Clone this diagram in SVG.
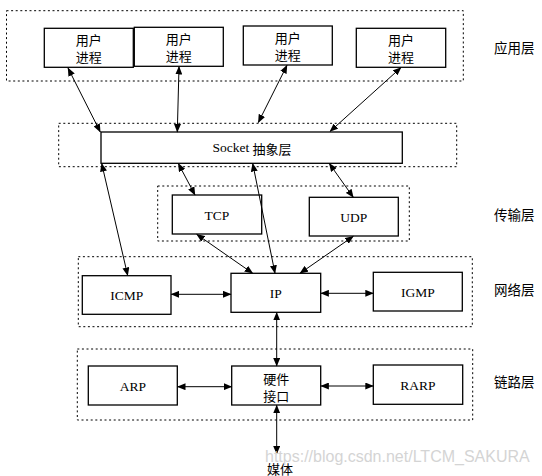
<svg xmlns="http://www.w3.org/2000/svg" width="542" height="476" viewBox="0 0 542 476">
<style>
.bg{fill:#ffffff}
.box{fill:#ffffff;stroke:#000;stroke-width:1.3}
.layer{fill:none;stroke:#000;stroke-width:1;stroke-dasharray:2 2.6}
.lat{font-family:"Liberation Serif","Noto Sans CJK SC",serif;font-size:13.5px;fill:#000;text-anchor:middle;dominant-baseline:central}
.cjk{font-family:"Noto Sans CJK SC","Noto Sans CJK JP",sans-serif;font-size:13px;fill:#000;text-anchor:middle;dominant-baseline:central}
.lbl{font-family:"Noto Sans CJK SC","Noto Sans CJK JP",sans-serif;font-size:13.5px;fill:#000;text-anchor:start;dominant-baseline:central}
.wm{font-family:"Liberation Sans",Arial,sans-serif;font-size:16px;fill:#d4d4d4}
.conn line{stroke:#000;stroke-width:1;marker-start:url(#ah);marker-end:url(#ah)}
</style>
<defs>
<marker id="ah" markerWidth="9" markerHeight="7" refX="8" refY="3.5" orient="auto-start-reverse" markerUnits="userSpaceOnUse">
<path d="M0,0 L8.5,3.5 L0,7 z" fill="#000"/>
</marker>
</defs>
<rect class="bg" x="0" y="0" width="542" height="476"/>

<g id="layers">
<rect class="layer" x="6.5" y="10.7" width="456.8" height="70.3"/>
<rect class="layer" x="58.7" y="123.3" width="398" height="43.4"/>
<rect class="layer" x="157.7" y="186" width="251.6" height="55"/>
<rect class="layer" x="78.3" y="256.7" width="394" height="70"/>
<rect class="layer" x="77.3" y="349" width="395.4" height="71"/>
</g>

<g id="layer-labels">
<text class="lbl" x="494" y="47">应用层</text>
<text class="lbl" x="494" y="213.5">传输层</text>
<text class="lbl" x="494" y="288.5">网络层</text>
<text class="lbl" x="494" y="381">链路层</text>
</g>

<g id="user1">
<rect class="box" x="44.3" y="28.3" width="89" height="39"/>
<text class="cjk" x="88.8" y="39.3">用户<tspan x="88.8" dy="16.7">进程</tspan></text>
</g>
<g id="user2">
<rect class="box" x="134.3" y="27.3" width="89" height="39"/>
<text class="cjk" x="178.8" y="38.3">用户<tspan x="178.8" dy="16.7">进程</tspan></text>
</g>
<g id="user3">
<rect class="box" x="243.3" y="26" width="89" height="39"/>
<text class="cjk" x="287.8" y="37">用户<tspan x="287.8" dy="16.7">进程</tspan></text>
</g>
<g id="user4">
<rect class="box" x="356.3" y="28.3" width="89.4" height="39"/>
<text class="cjk" x="401" y="39.3">用户<tspan x="401" dy="16.7">进程</tspan></text>
</g>

<g id="socket">
<rect class="box" x="101" y="132" width="301.3" height="31.3"/>
<text class="lat" x="252" y="147.7">Socket <tspan font-family="Noto Sans CJK SC, sans-serif" font-size="13px">抽象层</tspan></text>
</g>

<g id="tcp">
<rect class="box" x="172.3" y="195" width="89.4" height="39"/>
<text class="lat" x="217" y="215">TCP</text>
</g>
<g id="udp">
<rect class="box" x="309.3" y="197.3" width="89" height="38.7"/>
<text class="lat" x="353.8" y="217">UDP</text>
</g>

<g id="icmp">
<rect class="box" x="82.3" y="275.7" width="88.7" height="38.6"/>
<text class="lat" x="126.7" y="295">ICMP</text>
</g>
<g id="ip">
<rect class="box" x="231" y="273.3" width="89.7" height="39"/>
<text class="lat" x="275.8" y="293">IP</text>
</g>
<g id="igmp">
<rect class="box" x="373.3" y="272.3" width="89" height="38.7"/>
<text class="lat" x="417.8" y="292">IGMP</text>
</g>

<g id="arp">
<rect class="box" x="88.3" y="366" width="89" height="39"/>
<text class="lat" x="132.8" y="386">ARP</text>
</g>
<g id="hw">
<rect class="box" x="231.7" y="366" width="89" height="39"/>
<text class="cjk" x="276.2" y="378">硬件<tspan x="276.2" dy="16.7">接口</tspan></text>
</g>
<g id="rarp">
<rect class="box" x="373.3" y="365" width="89.4" height="39.3"/>
<text class="lat" x="418" y="385">RARP</text>
</g>

<g id="media">
<text class="cjk" x="280" y="468">媒体</text>
</g>

<g id="connectors" class="conn">
<line x1="68" y1="68" x2="100.3" y2="132"/>
<line x1="179" y1="66.5" x2="177.3" y2="132"/>
<line x1="287" y1="65.3" x2="258.3" y2="122.5"/>
<line x1="401" y1="67.5" x2="330" y2="131.5"/>
<line x1="101.7" y1="163.5" x2="127.7" y2="275.5"/>
<line x1="178.3" y1="163.5" x2="195" y2="195"/>
<line x1="252.7" y1="163.5" x2="275" y2="273.3"/>
<line x1="329.3" y1="163.5" x2="353.3" y2="197.3"/>
<line x1="196.7" y1="234.3" x2="252.7" y2="273.3"/>
<line x1="353.3" y1="236.3" x2="300" y2="273.3"/>
<line x1="171.2" y1="294.3" x2="231" y2="294.3"/>
<line x1="320.9" y1="293.3" x2="373.3" y2="293.3"/>
<line x1="276.7" y1="312.4" x2="276.7" y2="366"/>
<line x1="177.5" y1="386.7" x2="231.7" y2="386.7"/>
<line x1="320.9" y1="386" x2="373.3" y2="386"/>
<line x1="276.7" y1="405.2" x2="276.7" y2="454"/>
</g>

<text class="wm" x="265" y="462">https://blog.csdn.net/LTCM_SAKURA</text>
</svg>
